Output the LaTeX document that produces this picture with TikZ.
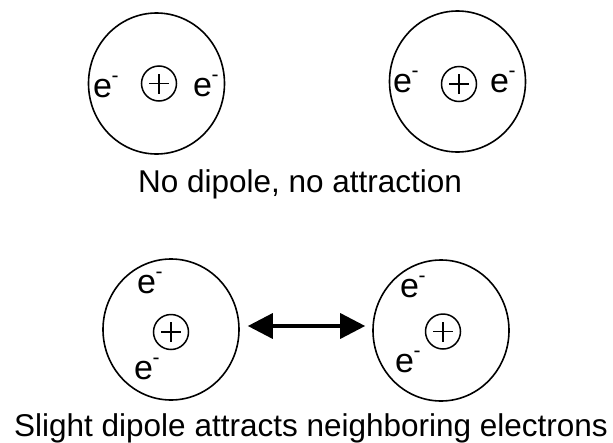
\documentclass[tikz,border=0pt]{standalone}
\usepackage{fontspec}
\setmainfont{Liberation Sans}
\usetikzlibrary{shapes.geometric,arrows.meta}

% electron symbol: "e" with a small raised minus
\newcommand\elec{e\kern-0.5pt\raisebox{15pt}{\fontsize{21}{21}\selectfont -}}

\begin{document}
\begin{tikzpicture}[x=1pt,y=-1pt,
  atom/.style={draw, ellipse, line width=1.6pt, minimum width=136pt,
    minimum height=141pt, inner sep=0pt},
  nucleus/.style={draw, circle, line width=1.5pt, minimum size=35pt, inner sep=0pt,
    path picture={\draw[line width=1.5pt]
      ([xshift=-10pt]path picture bounding box.center) -- ++(20pt,0pt)
      ([yshift=-10pt]path picture bounding box.center) -- ++(0pt,20pt);}},
  electron/.style={anchor=base west, inner sep=0pt, font=\fontsize{34}{34}\selectfont},
  caption/.style={anchor=base, inner sep=0pt, font=\fontsize{31.5}{31.5}\selectfont},
  attract/.style={{Triangle[length=25pt,width=25pt]}-{Triangle[length=25pt,width=25pt]},
    line width=3.5pt}]

\useasboundingbox (0,0) rectangle (613,442);

% upper pair: symmetric charge, no dipole
\node[atom] (a1) at (156.5,83.5) {};
\node[nucleus] (n1) at (159,83.5) {};
\node[electron] (e1) at (93,97) {\elec};
\node[electron] (e2) at (193,96) {\elec};

\node[atom] (a2) at (457.5,81.5) {};
\node[nucleus] (n2) at (459,84) {};
\node[electron] (e3) at (393,92) {\elec};
\node[electron] (e4) at (490,92) {\elec};

\node[caption] (c1) at (300,192) {No dipole, no attraction};

% lower pair: electrons shifted to one side
\node[atom] (a3) at (171,329.5) {};
\node[nucleus] (n3) at (171,332) {};
\node[electron] (e5) at (137,293) {\elec};
\node[electron] (e6) at (134,379) {\elec};

\node[atom] (a4) at (441,330.5) {};
\node[nucleus] (n4) at (443,331.5) {};
\node[electron] (e7) at (400,297) {\elec};
\node[electron] (e8) at (395,372) {\elec};

\draw[attract] ([xshift=8pt,yshift=3.5pt]a3.east) -- ([xshift=-7pt,yshift=4.5pt]a4.west);

\node[caption] (c2) at (311,436) {Slight dipole attracts neighboring electrons};
\end{tikzpicture}
\end{document}
